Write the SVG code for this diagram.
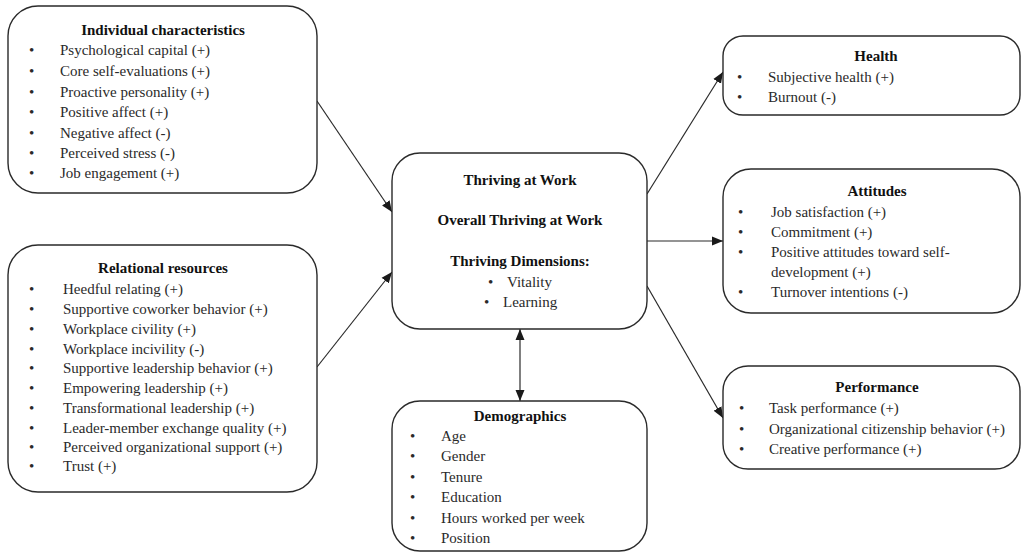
<svg xmlns="http://www.w3.org/2000/svg" width="1023" height="552" viewBox="0 0 1023 552">
<style>
.box{fill:#fff;stroke:#2a2a2a;stroke-width:1.4}
text{font-family:"Liberation Serif","Times New Roman",serif;font-size:15px;fill:#2a2a2a}
.h{font-weight:bold;fill:#111;text-anchor:middle}
.c{text-anchor:middle}
.con{stroke:#2a2a2a;stroke-width:1.2;fill:none}
</style>
<defs>
<marker id="ah" markerWidth="12" markerHeight="10" refX="11" refY="5" orient="auto" markerUnits="userSpaceOnUse">
<path d="M0,0.5 L11,5 L0,9.5 Z" fill="#1a1a1a"/>
</marker>
<marker id="as" markerWidth="12" markerHeight="10" refX="1" refY="5" orient="auto" markerUnits="userSpaceOnUse">
<path d="M12,0.5 L1,5 L12,9.5 Z" fill="#1a1a1a"/>
</marker>
</defs>
<g id="connectors">
<line class="con" x1="317" y1="101" x2="392" y2="212" marker-end="url(#ah)"/>
<line class="con" x1="317" y1="367" x2="392" y2="272" marker-end="url(#ah)"/>
<line class="con" x1="647" y1="194" x2="723" y2="72" marker-end="url(#ah)"/>
<line class="con" x1="647" y1="241" x2="723" y2="241" marker-end="url(#ah)"/>
<line class="con" x1="647" y1="286" x2="723" y2="418" marker-end="url(#ah)"/>
<line class="con" x1="520" y1="329" x2="520" y2="401" marker-start="url(#as)" marker-end="url(#ah)"/>
</g>
<g id="individual">
<rect class="box" x="8" y="6" width="309" height="187" rx="30"/>
<text class="h" x="163" y="35">Individual characteristics</text>
<g>
<text x="29" y="55">•</text><text x="60" y="55">Psychological capital (+)</text>
<text x="29" y="76">•</text><text x="60" y="76">Core self-evaluations (+)</text>
<text x="29" y="97">•</text><text x="60" y="97">Proactive personality  (+)</text>
<text x="29" y="117">•</text><text x="60" y="117">Positive affect (+)</text>
<text x="29" y="138">•</text><text x="60" y="138">Negative affect (-)</text>
<text x="29" y="158">•</text><text x="60" y="158">Perceived stress (-)</text>
<text x="29" y="178">•</text><text x="60" y="178">Job engagement (+)</text>
</g>
</g>
<g id="relational">
<rect class="box" x="8" y="245" width="309" height="247" rx="30"/>
<text class="h" x="163" y="273">Relational resources</text>
<text x="29" y="294">•</text><text x="63" y="294">Heedful relating (+)</text>
<text x="29" y="314">•</text><text x="63" y="314">Supportive coworker behavior (+)</text>
<text x="29" y="334">•</text><text x="63" y="334">Workplace civility (+)</text>
<text x="29" y="354">•</text><text x="63" y="354">Workplace incivility (-)</text>
<text x="29" y="373">•</text><text x="63" y="373">Supportive leadership behavior (+)</text>
<text x="29" y="393">•</text><text x="63" y="393">Empowering leadership (+)</text>
<text x="29" y="413">•</text><text x="63" y="413">Transformational leadership (+)</text>
<text x="29" y="433">•</text><text x="63" y="433">Leader-member exchange quality (+)</text>
<text x="29" y="452">•</text><text x="63" y="452">Perceived organizational support (+)</text>
<text x="29" y="471">•</text><text x="63" y="471">Trust (+)</text>
</g>
<g id="thriving">
<rect class="box" x="392" y="153" width="255" height="176" rx="28"/>
<text class="h" x="520" y="185">Thriving at Work</text>
<text class="h" x="520" y="225">Overall Thriving at Work</text>
<text class="h" x="520" y="266">Thriving Dimensions:</text>
<text x="488" y="287">•</text><text x="507" y="287">Vitality</text>
<text x="484" y="307">•</text><text x="503" y="307">Learning</text>
</g>
<g id="demographics">
<rect class="box" x="392" y="401" width="255" height="150" rx="28"/>
<text class="h" x="520" y="421">Demographics</text>
<text x="410" y="441">•</text><text x="441" y="441">Age</text>
<text x="410" y="461">•</text><text x="441" y="461">Gender</text>
<text x="410" y="482">•</text><text x="441" y="482">Tenure</text>
<text x="410" y="502">•</text><text x="441" y="502">Education</text>
<text x="410" y="523">•</text><text x="441" y="523">Hours worked per week</text>
<text x="410" y="543">•</text><text x="441" y="543">Position</text>
</g>
<g id="health">
<rect class="box" x="723" y="36" width="297" height="79" rx="20"/>
<text class="h" x="876" y="61">Health</text>
<text x="737" y="82">•</text><text x="768" y="82">Subjective health (+)</text>
<text x="737" y="102">•</text><text x="768" y="102">Burnout (-)</text>
</g>
<g id="attitudes">
<rect class="box" x="723" y="169" width="297" height="144" rx="28"/>
<text class="h" x="877" y="196">Attitudes</text>
<text x="738" y="217">•</text><text x="771" y="217">Job satisfaction (+)</text>
<text x="738" y="237">•</text><text x="771" y="237">Commitment (+)</text>
<text x="738" y="257">•</text><text x="771" y="257">Positive attitudes toward self-</text>
<text x="771" y="277">development (+)</text>
<text x="738" y="297">•</text><text x="771" y="297">Turnover intentions (-)</text>
</g>
<g id="performance">
<rect class="box" x="723" y="366" width="297" height="103" rx="25"/>
<text class="h" x="877" y="392">Performance</text>
<text x="739" y="413">•</text><text x="769" y="413">Task performance (+)</text>
<text x="739" y="434">•</text><text x="769" y="434">Organizational citizenship behavior (+)</text>
<text x="739" y="454">•</text><text x="769" y="454">Creative performance (+)</text>
</g>
</svg>
